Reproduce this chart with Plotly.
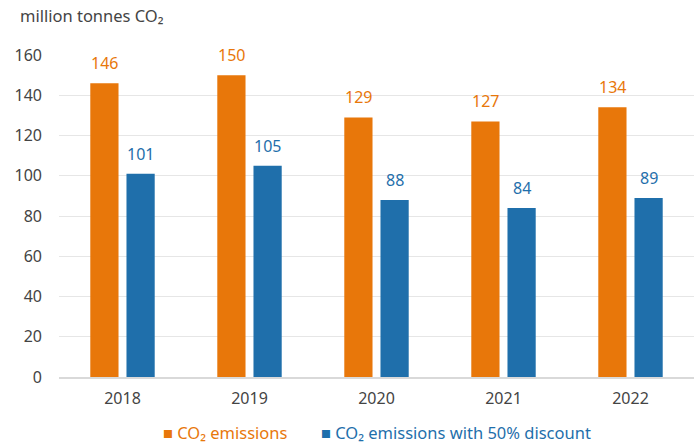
import plotly.graph_objects as go

years = ["2018", "2019", "2020", "2021", "2022"]
emissions = [146, 150, 129, 127, 134]
emissions_discount = [101, 105, 88, 84, 89]
y_ticks = [0, 20, 40, 60, 80, 100, 120, 140, 160]

ORANGE = "#E8770A"
BLUE = "#1F6FAB"
TEXT = "#444444"
FONT = "Noto Sans"

PLOT_W = 635
PLOT_H = 322
BARGAP = 0.43
# horizontal offset of each bar centre from its category centre (px)
BAR_OFFSET = PLOT_W / len(years) * (1 - BARGAP) / 4

fig = go.Figure()
fig.add_trace(go.Bar(
    x=years, y=emissions, name="CO₂ emissions",
    marker=dict(color=ORANGE, line=dict(width=0)),
))
fig.add_trace(go.Bar(
    x=years, y=emissions_discount, name="CO₂ emissions with 50% discount",
    marker=dict(color=BLUE, line=dict(width=0)),
))

# value labels above the bars
for vals, color, sign in ((emissions, ORANGE, -1), (emissions_discount, BLUE, 1)):
    for i, v in enumerate(vals):
        fig.add_annotation(
            x=i, y=v, text=str(v), xref="x", yref="y",
            xshift=sign * BAR_OFFSET, yshift=7, yanchor="bottom",
            showarrow=False, font=dict(size=16, color=color, family=FONT),
        )

fig.update_layout(
    width=695, height=445,
    margin=dict(l=59, r=1, t=55, b=68),
    paper_bgcolor="white", plot_bgcolor="white",
    barmode="group", bargap=BARGAP, bargroupgap=0.22,
    showlegend=False,
    font=dict(family=FONT, color=TEXT, size=16),
)
fig.update_xaxes(
    type="category", categoryorder="array", categoryarray=years,
    showgrid=False, showline=True, linecolor="#d9d9d9", linewidth=1.5,
    ticks="", tickfont=dict(size=16, color=TEXT), ticklabelstandoff=6,
)
fig.update_yaxes(
    range=[0, 160], tickvals=y_ticks, showgrid=True, gridcolor="#e6e6e6",
    gridwidth=1, zeroline=False, showline=False, ticks="",
    tickfont=dict(size=16, color=TEXT), ticklabelstandoff=16,
)

fig.add_annotation(
    text="million tonnes CO₂", xref="paper", yref="paper",
    x=(18 - 59) / PLOT_W, y=1 + 39 / PLOT_H, xanchor="left", yanchor="middle",
    showarrow=False, font=dict(size=16.5, color=TEXT, family=FONT),
)
fig.add_annotation(
    text="■ CO₂ emissions", xref="paper", yref="paper",
    x=(161 - 59) / PLOT_W, y=-56 / PLOT_H, xanchor="left", yanchor="middle",
    showarrow=False, font=dict(size=16.5, color=ORANGE, family=FONT),
)
fig.add_annotation(
    text="■ CO₂ emissions with 50% discount", xref="paper", yref="paper",
    x=(319 - 59) / PLOT_W, y=-56 / PLOT_H, xanchor="left", yanchor="middle",
    showarrow=False, font=dict(size=16.5, color=BLUE, family=FONT),
)

fig.write_html("out.html")
